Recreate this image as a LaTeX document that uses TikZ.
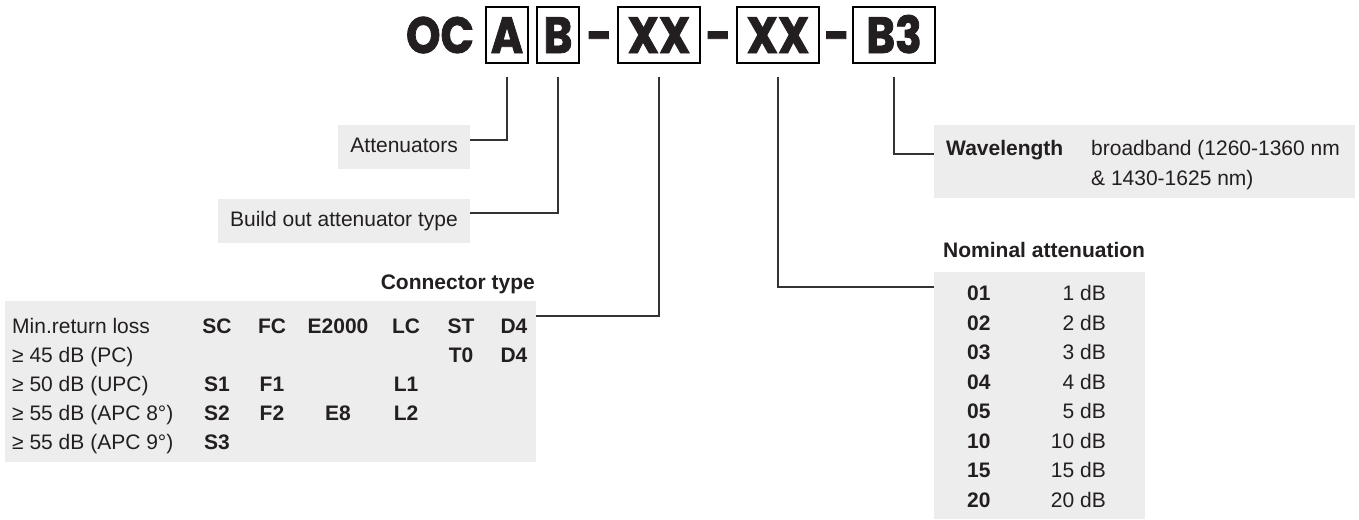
\documentclass[tikz,border=0pt]{standalone}
\usepackage{fontspec}
\setmainfont{Liberation Sans}
\newfontfamily\titlefont{Poppins}[BoldFeatures={FakeStretch=0.86,FakeBold=1.6}]
\usetikzlibrary{calc}
\definecolor{boxgray}{HTML}{EDEDED}
\definecolor{linecol}{HTML}{333333}
\definecolor{txt}{HTML}{231F20}
\begin{document}
\begin{tikzpicture}[x=1pt,y=-1pt,
  font=\fontsize{21}{29}\selectfont, text=txt,
  titlebox/.style={draw=black, line width=1.3pt, minimum height=56pt, inner sep=0pt,
    text height=36pt, text depth=0pt, font=\titlefont\bfseries\fontsize{51}{51}\selectfont},
  titletext/.style={inner sep=0pt, anchor=base, font=\titlefont\bfseries\fontsize{51}{51}\selectfont},
  graybox/.style={fill=boxgray, draw=none, inner sep=0pt},
  lbl/.style={fill=boxgray, inner xsep=12pt, inner ysep=0pt, minimum height=44pt, text height=15pt, text depth=4pt},
  conn/.style={draw=linecol, line width=1.5pt},
  txtw/.style={inner sep=0pt, anchor=base west},
  txte/.style={inner sep=0pt, anchor=base east},
  txtc/.style={inner sep=0pt, anchor=base, font=\fontsize{21}{29}\selectfont\bfseries},
  txtb/.style={inner sep=0pt, anchor=base west, font=\fontsize{21}{29}\selectfont\bfseries}]
\useasboundingbox (0,0) rectangle (1359,519);

% title
\node[titletext] (oc) at (440,53) {OC};
\node[titlebox, minimum width=42pt] (bA) at (507,35) {A};
\node[titlebox, minimum width=42pt] (bB) at (558,35) {B};
\node[titletext] (d1) at (599.5,53) {-};
\node[titlebox, minimum width=82pt] (bX1) at (659,35) {XX};
\node[titletext] (d2) at (718.5,53) {-};
\node[titlebox, minimum width=82pt] (bX2) at (778,35) {XX};
\node[titletext] (d3) at (837,53) {-};
\node[titlebox, minimum width=82pt] (bB3) at (894,35) {B3};

\coordinate (sA) at ($(bA.south)+(0,13)$);
\coordinate (sB) at ($(bB.south)+(0,13)$);
\coordinate (sX1) at ($(bX1.south)+(0,13)$);
\coordinate (sX2) at ($(bX2.south)+(0,13)$);
\coordinate (sB3) at ($(bB3.south)+(0,13)$);

% label boxes
\node[lbl, anchor=east] (att) at (470,147) {Attenuators};
\node[lbl, anchor=east] (bo) at (470,220.5) {Build out attenuator type};

% connector table
\node[graybox, anchor=north west, minimum width=531pt, minimum height=161pt] (ct) at (5,301) {};
\node[txtb, anchor=base east] (cth) at (535,289) {Connector type};
\node[txtw] (r1) at (12,333.5) {Min.return loss};
\node[txtw] (r2) at (12,362.5) {≥ 45 dB (PC)};
\node[txtw] (r3) at (12,391.5) {≥ 50 dB (UPC)};
\node[txtw] (r4) at (12,420.5) {≥ 55 dB (APC 8°)};
\node[txtw] (r5) at (12,449.5) {≥ 55 dB (APC 9°)};
\node[txtc] at (217,333.5) {SC};
\node[txtc] at (272,333.5) {FC};
\node[txtc] at (338,333.5) {E2000};
\node[txtc] at (406,333.5) {LC};
\node[txtc] at (461,333.5) {ST};
\node[txtc] at (514,333.5) {D4};
\node[txtc] at (461,362.5) {T0};
\node[txtc] at (514,362.5) {D4};
\node[txtc] at (217,391.5) {S1};
\node[txtc] at (272,391.5) {F1};
\node[txtc] at (406,391.5) {L1};
\node[txtc] at (217,420.5) {S2};
\node[txtc] at (272,420.5) {F2};
\node[txtc] at (338,420.5) {E8};
\node[txtc] at (406,420.5) {L2};
\node[txtc] at (217,449.5) {S3};

% nominal attenuation table
\node[graybox, anchor=north west, minimum width=211pt, minimum height=247pt] (na) at (934,272) {};
\node[txtb] (nah) at (943,257.5) {Nominal attenuation};
\foreach \c/\v/\y in {01/1/293,02/2/322.5,03/3/352,04/4/381.5,05/5/411,10/10/440.5,15/15/470,20/20/499.5}{
  \node[txtb] at (967,\y+7.5) {\c};
  \node[txte] at (1106,\y+7.5) {\v{} dB};
}

% wavelength box
\node[graybox, anchor=north west, minimum width=421pt, minimum height=73pt] (wl) at (934,125) {};
\node[txtb] (wlh) at (946,155.5) {Wavelength};
\node[txtw] (wl1) at (1091,155.5) {broadband (1260-1360 nm};
\node[txtw] (wl2) at (1091,185.5) {\& 1430-1625 nm)};

% connectors
\draw[conn] (sA) |- ([yshift=7pt]att.east);
\draw[conn] (sB) |- ([yshift=7.5pt]bo.east);
\draw[conn] (sX1) |- ([yshift=-15pt]ct.north east);
\draw[conn] (sX2) |- ([yshift=-15pt]na.north west);
\draw[conn] (sB3) |- ([yshift=-29pt]wl.north west);
\end{tikzpicture}
\end{document}
